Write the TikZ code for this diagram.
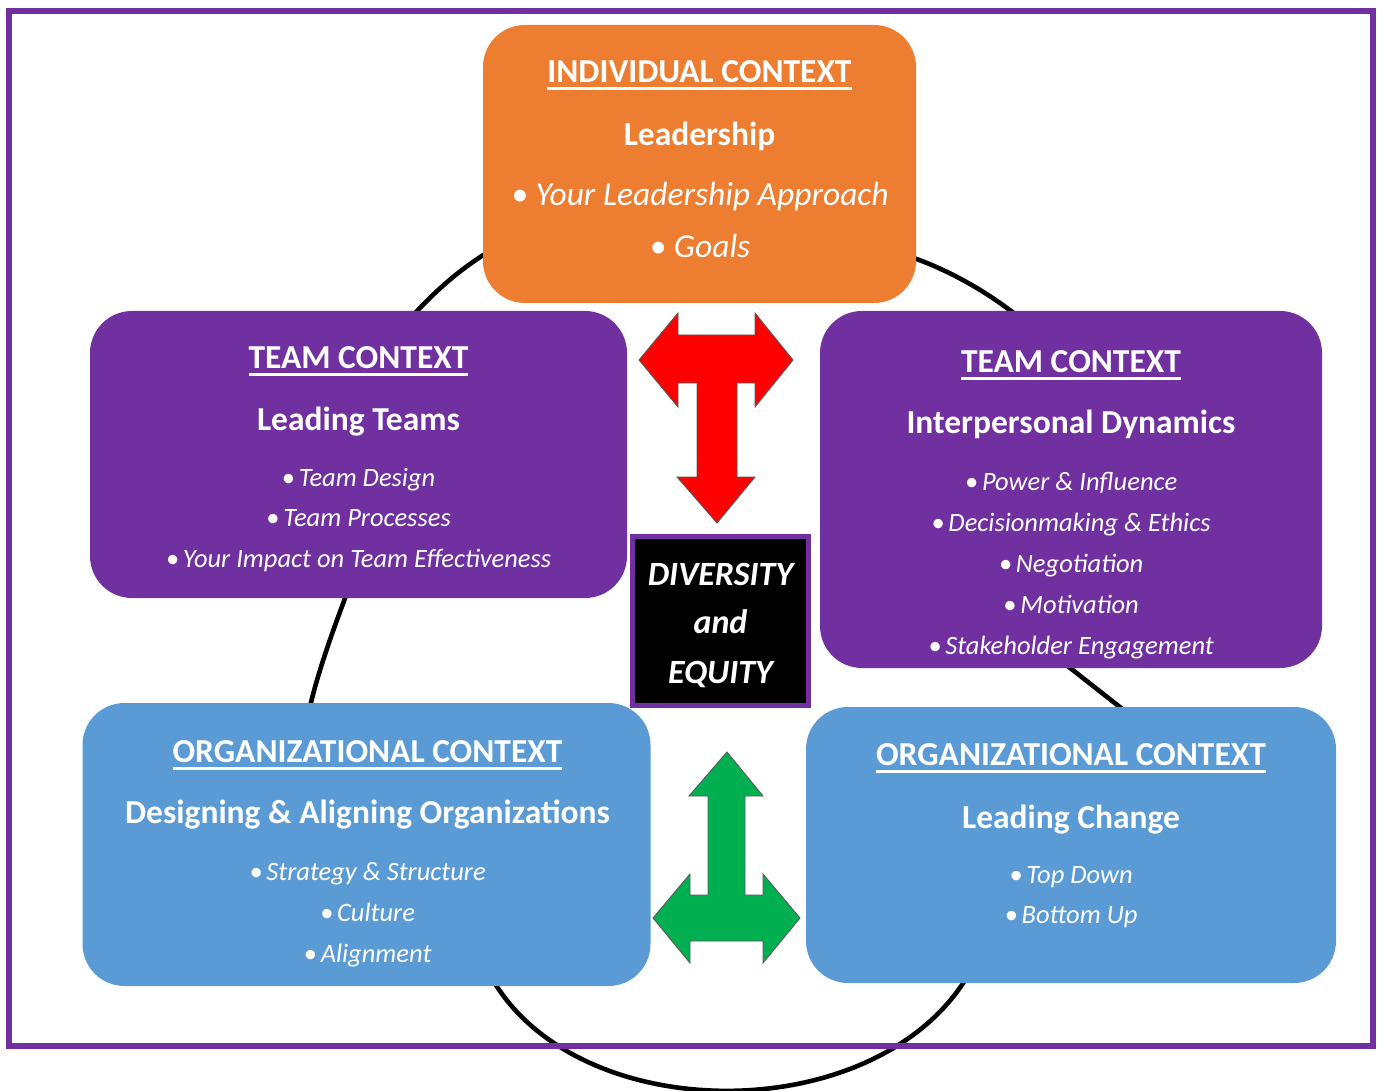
\documentclass[tikz,border=0pt]{standalone}
\usepackage{fontspec}
\setmainfont{Carlito}
\usepackage{tikz}
\definecolor{ctxorange}{HTML}{ED7D31}
\definecolor{ctxpurple}{HTML}{7030A0}
\definecolor{ctxblue}{HTML}{5B9BD5}
\definecolor{arrred}{HTML}{FF0000}
\definecolor{arrgreen}{HTML}{00B050}
% heading with a heavy underline
\newcommand{\ctxline}[1]{\setbox0\hbox{#1}\rlap{\rule[-7.5pt]{\wd0}{3pt}}\box0}
\tikzset{
  ctxbox/.style  = {rectangle,rounded corners=42pt,inner sep=0pt},
  ttl/.style     = {anchor=base,text=white,font=\fontsize{33.5}{40}\selectfont\bfseries},
  itm/.style     = {anchor=base,text=white,font=\fontsize{26.5}{32}\selectfont\itshape},
  bigitm/.style  = {anchor=base,text=white,font=\fontsize{33.5}{40}\selectfont\itshape},
  deitm/.style   = {anchor=base,text=white,font=\fontsize{34}{40}\selectfont\bfseries\itshape},
  loopline/.style= {black,line width=4.6pt},
  bigarr/.style  = {draw=black!65,line width=0.9pt,line join=miter}
}

\begin{document}
\begin{tikzpicture}[x=1pt,y=-1pt]
  \useasboundingbox (0,0) rectangle (1377,1091);
  % --- the loop behind the boxes
  \coordinate (tl-a) at (400,330);  \coordinate (tl-b) at (495,248);
  \coordinate (tr-a) at (905,255);  \coordinate (tr-b) at (1020,318);
  \coordinate (rr-a) at (1060,660); \coordinate (rr-b) at (1130,715);
  \coordinate (bt-a) at (490,975);  \coordinate (bt-b) at (970,972);
  \coordinate (ll-a) at (350,585);  \coordinate (ll-b) at (308,715);
  \draw[loopline] (tl-a) .. controls (430,295) and (460,268) .. (tl-b);
  \draw[loopline] (tr-a) .. controls (945,268) and (985,290) .. (tr-b);
  \draw[loopline] (rr-a) -- (rr-b);
  \draw[loopline] (bt-a) .. controls (575,1130) and (880,1130) .. (bt-b);
  \draw[loopline] (ll-a) .. controls (335,625) and (318,670) .. (ll-b);
  % --- outer frame
  \draw[ctxpurple,line width=6pt] (9,11.5) rectangle (1373,1046);

  % --- boxes
  \node[ctxbox,fill=ctxorange,minimum width=433pt,minimum height=278pt] (ind) at (699.5,164) {};
  \node[ctxbox,fill=ctxpurple,minimum width=537pt,minimum height=287pt] (lead) at (358.5,454.5) {};
  \node[ctxbox,fill=ctxpurple,minimum width=502pt,minimum height=357pt] (inter) at (1071,489.5) {};
  \node[ctxbox,fill=ctxblue,minimum width=568pt,minimum height=283pt] (align) at (366.5,844.5) {};
  \node[ctxbox,fill=ctxblue,minimum width=530pt,minimum height=276pt] (change) at (1071,845) {};
  \node[rectangle,fill=black,draw=ctxpurple,line width=5pt,
        minimum width=176pt,minimum height=169pt] (de) at (720,620.5) {};

  % --- individual context
  \node[ttl] (ind-t) at (699.5,83) {\ctxline{INDIVIDUAL CONTEXT}};
  \node[ttl] (ind-s) at (699.5,146) {Leadership};
  \node[bigitm] (ind-1) at (700,206) {• Your Leadership Approach};
  \node[bigitm] (ind-2) at (700,258) {• Goals};

  % --- team context, left
  \node[ttl] (lead-t) at (358.5,369) {\ctxline{TEAM CONTEXT}};
  \node[ttl] (lead-s) at (358.5,430) {Leading Teams};
  \foreach \t [count=\i] in {Team Design,Team Processes,Your Impact on Team Effectiveness}
    \node[itm] (lead-\i) at (358.5,445.5+40.5*\i) {•\hspace{0.15em}\t};

  % --- team context, right
  \node[ttl] (inter-t) at (1071,373) {\ctxline{TEAM CONTEXT}};
  \node[ttl] (inter-s) at (1071,433) {Interpersonal Dynamics};
  \foreach \t [count=\i] in {Power \& Influence,Decisionmaking \& Ethics,Negotiation,Motivation,Stakeholder Engagement}
    \node[itm] (inter-\i) at (1071,449+41*\i) {•\hspace{0.15em}\t};

  % --- organizational context, left
  \node[ttl] (align-t) at (367.5,762) {\ctxline{ORGANIZATIONAL CONTEXT}};
  \node[ttl] (align-s) at (367.5,823) {Designing \& Aligning Organizations};
  \foreach \t [count=\i] in {Strategy \& Structure,Culture,Alignment}
    \node[itm] (align-\i) at (367.5,839+41*\i) {•\hspace{0.15em}\t};

  % --- organizational context, right
  \node[ttl] (change-t) at (1071,765) {\ctxline{ORGANIZATIONAL CONTEXT}};
  \node[ttl] (change-s) at (1071,828) {Leading Change};
  \foreach \t [count=\i] in {Top Down,Bottom Up}
    \node[itm] (change-\i) at (1071,843+40*\i) {•\hspace{0.15em}\t};

  % --- centre box
  \node[deitm] (de-1) at (720.5,585) {DIVERSITY};
  \node[deitm] (de-2) at (720.5,633) {and};
  \node[deitm] (de-3) at (720.5,683) {EQUITY};

  % --- T arrow, red
  \fill[arrred,bigarr] (639,360) -- (678,313) -- (678,335) -- (755,335) -- (755,313)
    -- (793,360) -- (755,407) -- (755,383) -- (737,383) -- (737,477) -- (755,477)
    -- (717,523) -- (677,477) -- (697,477) -- (697,383) -- (678,383) -- (678,407) -- cycle;
  % --- inverted T arrow, green
  \fill[arrgreen,bigarr] (727,752) -- (763,796) -- (745,796) -- (745,895) -- (763,895)
    -- (763,874) -- (800,918) -- (763,963) -- (763,941) -- (690,941) -- (690,963)
    -- (653,918) -- (690,874) -- (690,895) -- (708,895) -- (708,796) -- (689,796) -- cycle;
\end{tikzpicture}
\end{document}
